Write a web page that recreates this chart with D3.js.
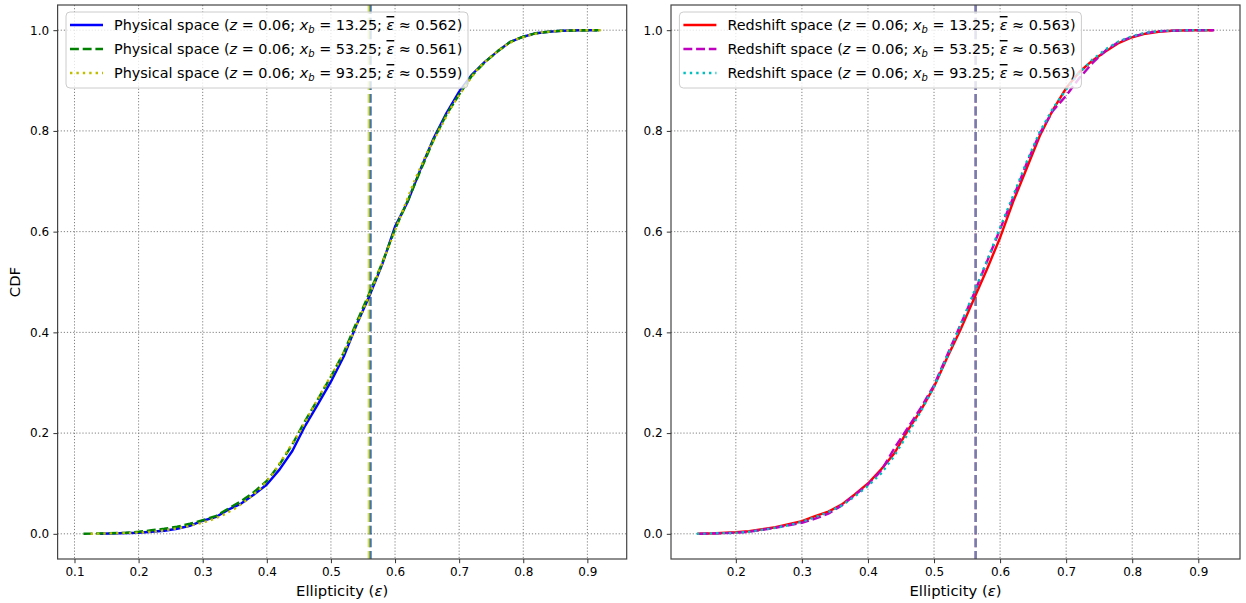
<!DOCTYPE html>
<html>
<head>
<meta charset="utf-8">
<script src="https://cdn.jsdelivr.net/npm/d3@7"></script>
<style>
  body { margin: 0; background: #fff; }
  svg text { font-family: "DejaVu Sans", sans-serif; fill: #000; }
</style>
</head>
<body>
<svg id="chart" width="1246" height="603"></svg>
<script>
// ---- data ----
const zValue = 0.06;
const xbValues = [13.25, 53.25, 93.25];
const physMeans = [0.562, 0.561, 0.559];
const redMeans = [0.563, 0.563, 0.563];

// physical space, x_b = 13.25
const physEps13 = [0.140, 0.170, 0.200, 0.220, 0.240, 0.260, 0.280, 0.300, 0.320, 0.340, 0.360, 0.380, 0.400, 0.420, 0.440, 0.460, 0.480, 0.500, 0.520, 0.540, 0.560, 0.580, 0.600, 0.620, 0.640, 0.660, 0.680, 0.700, 0.720, 0.740, 0.760, 0.780, 0.800, 0.820, 0.840, 0.860, 0.890, 0.915];
const physCdf13 = [0.000, 0.001, 0.002, 0.004, 0.006, 0.010, 0.016, 0.026, 0.033, 0.048, 0.060, 0.078, 0.098, 0.128, 0.165, 0.215, 0.258, 0.302, 0.352, 0.415, 0.472, 0.535, 0.610, 0.660, 0.725, 0.785, 0.835, 0.878, 0.912, 0.937, 0.958, 0.977, 0.987, 0.994, 0.997, 0.999, 1.000, 1.000];
// physical space, x_b = 53.25
const physEps53 = [0.114, 0.150, 0.180, 0.200, 0.220, 0.240, 0.260, 0.280, 0.300, 0.320, 0.340, 0.360, 0.380, 0.400, 0.420, 0.440, 0.460, 0.480, 0.500, 0.520, 0.540, 0.560, 0.580, 0.600, 0.620, 0.640, 0.660, 0.680, 0.700, 0.720, 0.740, 0.760, 0.780, 0.800, 0.820, 0.840, 0.860, 0.918];
const physCdf53 = [0.000, 0.001, 0.002, 0.004, 0.007, 0.010, 0.014, 0.020, 0.027, 0.035, 0.050, 0.065, 0.083, 0.105, 0.138, 0.178, 0.225, 0.268, 0.312, 0.360, 0.420, 0.478, 0.538, 0.605, 0.662, 0.722, 0.782, 0.832, 0.872, 0.910, 0.936, 0.958, 0.977, 0.987, 0.994, 0.997, 0.999, 1.000];
// physical space, x_b = 93.25
const physEps93 = [0.125, 0.160, 0.190, 0.210, 0.230, 0.250, 0.270, 0.290, 0.310, 0.330, 0.350, 0.370, 0.390, 0.410, 0.430, 0.450, 0.470, 0.490, 0.510, 0.530, 0.550, 0.570, 0.590, 0.610, 0.630, 0.650, 0.670, 0.690, 0.710, 0.730, 0.750, 0.770, 0.790, 0.810, 0.830, 0.850, 0.880, 0.921];
const physCdf93 = [0.000, 0.001, 0.002, 0.003, 0.005, 0.009, 0.013, 0.019, 0.026, 0.036, 0.050, 0.068, 0.090, 0.120, 0.160, 0.200, 0.245, 0.292, 0.335, 0.385, 0.445, 0.505, 0.570, 0.635, 0.700, 0.757, 0.805, 0.852, 0.890, 0.925, 0.948, 0.968, 0.982, 0.990, 0.996, 0.998, 1.000, 1.000];

// redshift space, x_b = 13.25
const redEps13 = [0.142, 0.170, 0.200, 0.220, 0.240, 0.260, 0.280, 0.300, 0.320, 0.340, 0.360, 0.380, 0.400, 0.420, 0.440, 0.460, 0.480, 0.500, 0.520, 0.540, 0.560, 0.580, 0.600, 0.620, 0.640, 0.660, 0.680, 0.700, 0.720, 0.740, 0.760, 0.780, 0.800, 0.820, 0.840, 0.860, 0.890, 0.922];
const redCdf13 = [0.000, 0.001, 0.003, 0.005, 0.009, 0.013, 0.019, 0.025, 0.035, 0.044, 0.058, 0.078, 0.100, 0.128, 0.160, 0.205, 0.245, 0.292, 0.350, 0.405, 0.465, 0.525, 0.588, 0.660, 0.725, 0.790, 0.842, 0.885, 0.917, 0.940, 0.958, 0.975, 0.986, 0.993, 0.997, 0.999, 1.000, 1.000];
// redshift space, x_b = 53.25
const redEps53 = [0.145, 0.175, 0.200, 0.220, 0.240, 0.260, 0.280, 0.300, 0.320, 0.340, 0.360, 0.380, 0.400, 0.420, 0.440, 0.460, 0.480, 0.500, 0.520, 0.540, 0.560, 0.580, 0.600, 0.620, 0.640, 0.660, 0.680, 0.700, 0.720, 0.740, 0.760, 0.780, 0.800, 0.820, 0.840, 0.860, 0.890, 0.924];
const redCdf53 = [0.000, 0.001, 0.002, 0.004, 0.008, 0.012, 0.017, 0.022, 0.030, 0.040, 0.056, 0.077, 0.098, 0.125, 0.170, 0.210, 0.250, 0.295, 0.355, 0.415, 0.475, 0.540, 0.605, 0.668, 0.735, 0.795, 0.840, 0.870, 0.905, 0.935, 0.960, 0.977, 0.987, 0.994, 0.998, 0.999, 1.000, 1.000];
// redshift space, x_b = 93.25
const redEps93 = [0.141, 0.170, 0.200, 0.220, 0.240, 0.260, 0.280, 0.300, 0.320, 0.340, 0.360, 0.380, 0.400, 0.420, 0.440, 0.460, 0.480, 0.500, 0.520, 0.540, 0.560, 0.580, 0.600, 0.620, 0.640, 0.660, 0.680, 0.700, 0.720, 0.740, 0.760, 0.780, 0.800, 0.820, 0.840, 0.860, 0.890, 0.918];
const redCdf93 = [0.000, 0.001, 0.002, 0.004, 0.008, 0.012, 0.017, 0.024, 0.033, 0.043, 0.056, 0.074, 0.095, 0.120, 0.155, 0.198, 0.243, 0.292, 0.352, 0.414, 0.478, 0.542, 0.608, 0.672, 0.738, 0.798, 0.845, 0.882, 0.915, 0.942, 0.962, 0.978, 0.988, 0.995, 0.998, 0.999, 1.000, 1.000];

// tick labels
const xTicksLeft = [0.1, 0.2, 0.3, 0.4, 0.5, 0.6, 0.7, 0.8, 0.9];
const xTicksRight = [0.2, 0.3, 0.4, 0.5, 0.6, 0.7, 0.8, 0.9];
const yTicks = [0.0, 0.2, 0.4, 0.6, 0.8, 1.0];

// ---- layout ----
const svg = d3.select('#chart');
const axTop = 5, axBottom = 559;
const fmt = d3.format('.1f');

// line styles (solid / dashed / dotted)
const dashes = [null, '8.9,3.8', '2.4,4'];

const panels = [
    {
        left: 57.6, right: 626.7, name: 'Physical space', ticks: xTicksLeft, ylabel: 'CDF',
        colors: ['#0000ff', '#008000', '#bfbf00'],
        means: physMeans,
        series: [[physEps13, physCdf13], [physEps53, physCdf53], [physEps93, physCdf93]]
    },
    {
        left: 671, right: 1240, name: 'Redshift space', ticks: xTicksRight, ylabel: null,
        colors: ['#ff0000', '#bf00bf', '#00bfbf'],
        means: redMeans,
        series: [[redEps13, redCdf13], [redEps53, redCdf53], [redEps93, redCdf93]]
    }
];

panels.forEach((p, pi) => drawPanel(p, pi));

function drawPanel(p, pi) {
    // matplotlib-like 5% margins around the data
    const allEps = p.series.flatMap(s => s[0]);
    const [lo, hi] = d3.extent(allEps);
    const pad = (hi - lo) * 0.05;
    const x = d3.scaleLinear().domain([lo - pad, hi + pad]).range([p.left, p.right]);
    const y = d3.scaleLinear().domain([-0.05, 1.05]).range([axBottom, axTop]);

    const g = svg.append('g');

    g.append('clipPath').attr('id', 'clip' + pi)
        .append('rect')
        .attr('x', p.left).attr('y', axTop)
        .attr('width', p.right - p.left).attr('height', axBottom - axTop);

    // grid
    const grid = g.append('g')
        .attr('stroke', '#808080').attr('stroke-width', 1).attr('stroke-dasharray', '1.2,1.9');
    grid.selectAll('.gx').data(p.ticks).enter().append('line')
        .attr('x1', d => x(d)).attr('x2', d => x(d))
        .attr('y1', axTop).attr('y2', axBottom);
    grid.selectAll('.gy').data(yTicks).enter().append('line')
        .attr('x1', p.left).attr('x2', p.right)
        .attr('y1', d => y(d)).attr('y2', d => y(d));

    const plot = g.append('g').attr('clip-path', `url(#clip${pi})`);

    // mean lines
    p.means.forEach((m, i) => {
        plot.append('line')
            .attr('x1', x(m)).attr('x2', x(m))
            .attr('y1', axTop).attr('y2', axBottom)
            .attr('stroke', p.colors[i])
            .attr('stroke-opacity', 0.5)
            .attr('stroke-width', 2.4)
            .attr('stroke-dasharray', '8.9,3.8');
    });

    // CDF curves
    const line = d3.line().x(d => x(d[0])).y(d => y(d[1]));
    p.series.forEach((s, i) => {
        const pts = s[0].map((e, k) => [e, s[1][k]]);
        plot.append('path')
            .attr('d', line(pts))
            .attr('fill', 'none')
            .attr('stroke', p.colors[i])
            .attr('stroke-width', 2.4)
            .attr('stroke-linejoin', 'round')
            .attr('stroke-dasharray', dashes[i]);
    });

    // spines
    g.append('rect')
        .attr('x', p.left).attr('y', axTop)
        .attr('width', p.right - p.left).attr('height', axBottom - axTop)
        .attr('fill', 'none').attr('stroke', '#444').attr('stroke-width', 1.2);

    // axes
    const xAxis = g.append('g').attr('transform', `translate(0,${axBottom})`)
        .call(d3.axisBottom(x).tickValues(p.ticks).tickFormat(fmt).tickSize(4.2).tickPadding(4.2));
    const yAxis = g.append('g').attr('transform', `translate(${p.left},0)`)
        .call(d3.axisLeft(y).tickValues(yTicks).tickFormat(fmt).tickSize(4.2).tickPadding(4.2));
    [xAxis, yAxis].forEach(a => {
        a.select('.domain').remove();
        a.selectAll('line').attr('stroke', '#333');
        a.selectAll('text').attr('font-size', 12).attr('font-family', 'DejaVu Sans').attr('fill', '#000');
    });

    // x label
    const xl = g.append('text')
        .attr('x', (p.left + p.right) / 2).attr('y', 596)
        .attr('text-anchor', 'middle').attr('font-size', 14.8);
    xl.append('tspan').text('Ellipticity (');
    xl.append('tspan').attr('font-style', 'italic').text('ε');
    xl.append('tspan').text(')');

    if (p.ylabel) {
        g.append('text')
            .attr('transform', `translate(20,${(axTop + axBottom) / 2}) rotate(-90)`)
            .attr('text-anchor', 'middle').attr('font-size', 14.8)
            .text(p.ylabel);
    }

    // legend
    const lg = g.append('g').attr('transform', `translate(${p.left + 8.4},12)`);
    lg.append('rect')
        .attr('width', 402).attr('height', 76).attr('rx', 4)
        .attr('fill', '#fff').attr('fill-opacity', 0.8)
        .attr('stroke', '#cccccc').attr('stroke-width', 1);
    p.series.forEach((s, i) => {
        const ry = 13 + i * 24;
        lg.append('line')
            .attr('x1', 4).attr('x2', 37).attr('y1', ry).attr('y2', ry)
            .attr('stroke', p.colors[i]).attr('stroke-width', 2.4)
            .attr('stroke-dasharray', dashes[i]);
        const t = lg.append('text').attr('x', 48).attr('y', ry + 5).attr('font-size', 14.4);
        t.append('tspan').text(`${p.name} (`);
        t.append('tspan').attr('font-style', 'italic').text('z');
        t.append('tspan').text(` = ${zValue.toFixed(2)}; `);
        t.append('tspan').attr('font-style', 'italic').text('x');
        t.append('tspan').attr('font-style', 'italic').attr('font-size', 10).attr('dy', 3).text('b');
        t.append('tspan').attr('dy', -3).text(` = ${xbValues[i].toFixed(2)}; `);
        t.append('tspan').attr('font-style', 'italic').style('text-decoration', 'overline').text('ε');
        t.append('tspan').text(` ≈ ${p.means[i].toFixed(3)})`);
    });
}
</script>
</body>
</html>
